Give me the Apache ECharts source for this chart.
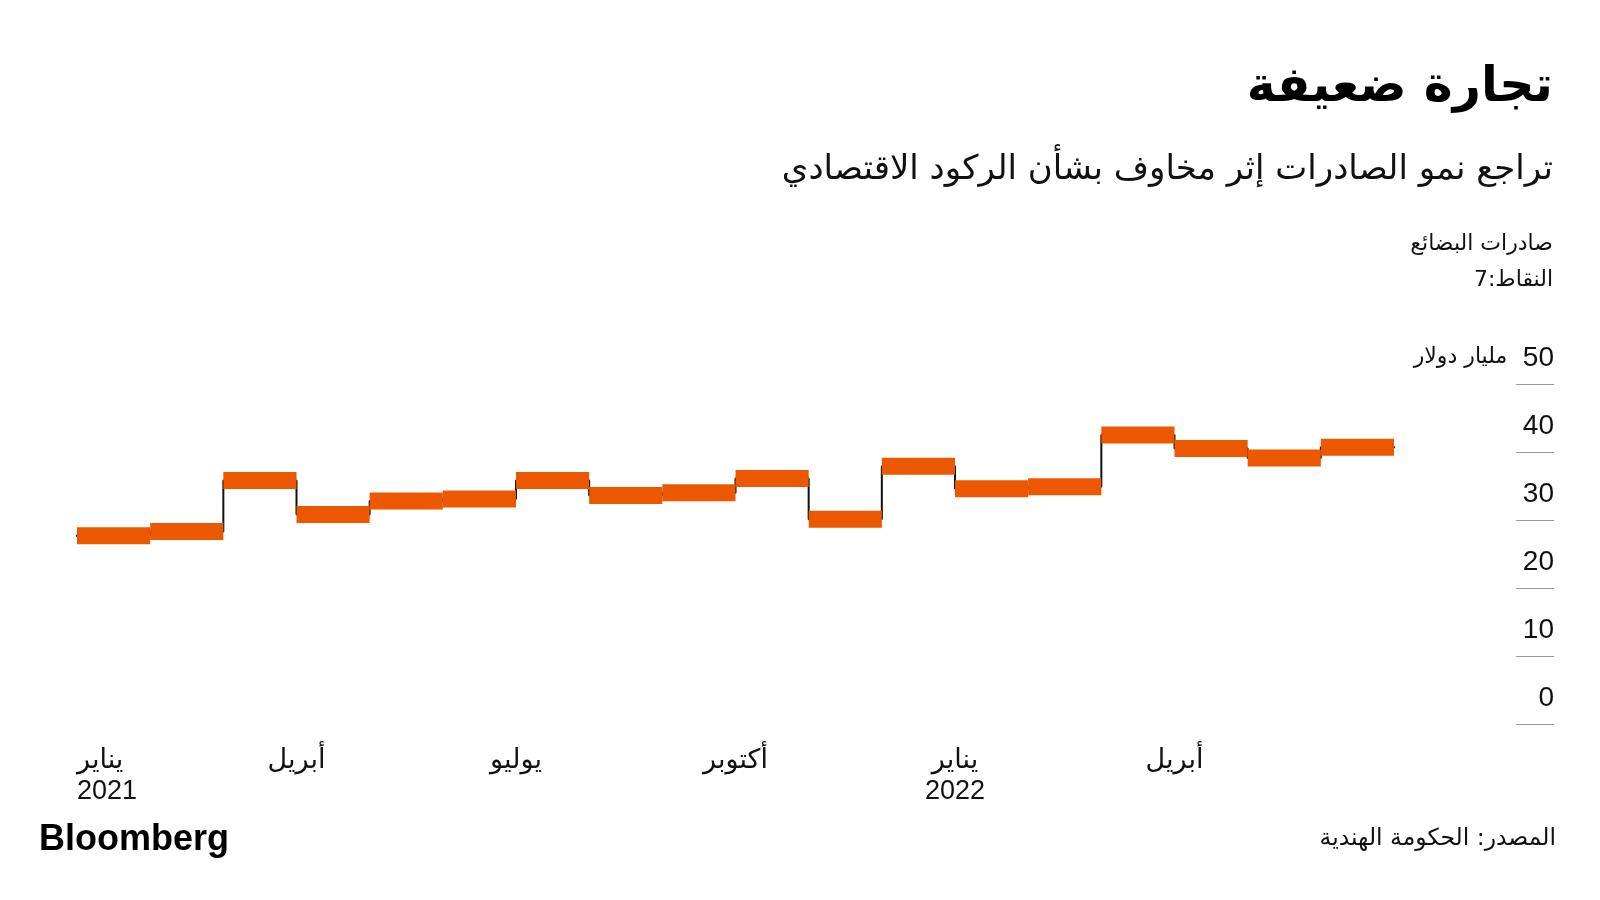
<!DOCTYPE html>
<html>
<head>
<meta charset="utf-8">
<script src="https://cdn.jsdelivr.net/npm/echarts@6/dist/echarts.min.js"></script>
<style>
html,body{margin:0;padding:0;background:#fff;}
#c{width:1600px;height:900px;}
</style>
</head>
<body>
<div id="c"></div>
<script>
// ---- data ----
var months = ["2021-01","2021-02","2021-03","2021-04","2021-05","2021-06","2021-07","2021-08","2021-09","2021-10","2021-11","2021-12","2022-01","2022-02","2022-03","2022-04","2022-05","2022-06"];
var exportsBn = [27.7, 28.3, 35.8, 30.8, 32.8, 33.1, 35.8, 33.6, 34.0, 36.1, 30.1, 37.9, 34.6, 34.9, 42.5, 40.5, 39.1, 40.7];
var xTickLabels = ["يناير\n2021", "أبريل", "يوليو", "أكتوبر", "يناير\n2022", "أبريل"];
var yTickValues = [0, 10, 20, 30, 40, 50];
var yUnit = "مليار دولار";

var AR = "'DejaVu Sans', 'Noto Sans', sans-serif";
var NUM = "'Liberation Sans', 'DejaVu Sans', sans-serif";

// step line points: each month index with its value, plus closing point
var stepData = months.map(function (m, i) { return [i, exportsBn[i]]; });
stepData.push([months.length, exportsBn[exportsBn.length - 1]]);
var segData = months.map(function (m, i) { return [i, exportsBn[i]]; });

var chart = echarts.init(document.getElementById('c'), null, {renderer: 'canvas'});
var option = {
  backgroundColor: '#ffffff',
  animation: false,
  grid: [
    {left: 77, right: 206, top: 384, bottom: 176},
    {left: 1516, right: 46, top: 384, bottom: 176}
  ],
  xAxis: [
    {
      type: 'value', gridIndex: 0, min: 0, max: months.length, interval: 3,
      axisLine: {show: false}, axisTick: {show: false}, splitLine: {show: false},
      axisLabel: {
        show: true, margin: 21, showMaxLabel: false, alignMinLabel: 'left',
        fontFamily: NUM, fontSize: 27, color: '#111', lineHeight: 31,
        formatter: function (v) { var k = Math.round(v / 3); return xTickLabels[k] || ''; }
      }
    },
    {type: 'value', gridIndex: 1, min: 0, max: 1, show: false}
  ],
  yAxis: [
    {type: 'value', gridIndex: 0, min: 0, max: 50, interval: 10, show: false},
    {
      type: 'value', gridIndex: 1, min: 0, max: 50, interval: 10, position: 'right',
      axisLine: {show: false}, axisTick: {show: false},
      splitLine: {show: true, lineStyle: {color: '#9a9a9a', width: 1}},
      axisLabel: {
        inside: true, margin: 0, verticalAlign: 'bottom', align: 'right',
        padding: [0, 0, 12, 0], lineHeight: 28,
        fontFamily: NUM, fontSize: 28, color: '#111',
        formatter: function (v) {
          if (v === yTickValues[yTickValues.length - 1]) return '{u|' + yUnit + '}{n|  ' + v + '}';
          return '{n|' + v + '}';
        },
        rich: {
          u: {fontFamily: AR, fontSize: 22, color: '#111', lineHeight: 28, padding: [0, 0, 2, 0]},
          n: {fontFamily: NUM, fontSize: 28, color: '#111', lineHeight: 28}
        }
      }
    }
  ],
  series: [
    {
      type: 'line', xAxisIndex: 0, yAxisIndex: 0, step: 'end',
      data: stepData, symbol: 'none', z: 2,
      lineStyle: {color: '#111111', width: 2, cap: 'square'}
    },
    {
      type: 'custom', xAxisIndex: 0, yAxisIndex: 0, z: 3,
      data: segData, encode: {x: 0, y: 1},
      renderItem: function (params, api) {
        var i = api.value(0), v = api.value(1);
        var a = api.coord([i, v]);
        var b = api.coord([i + 1, v]);
        var h = 17;
        return {
          type: 'rect',
          shape: {x: a[0], y: a[1] - h / 2, width: b[0] - a[0], height: h},
          style: {fill: '#ec5800'}
        };
      }
    }
  ],
  graphic: [
    {type: 'text', right: 47, top: 64, style: {text: 'تجارة ضعيفة', font: 'bold 49px ' + AR, fill: '#000'}},
    {type: 'text', right: 47, top: 153, style: {text: 'تراجع نمو الصادرات إثر مخاوف بشأن الركود الاقتصادي', font: '34px ' + AR, fill: '#111'}},
    {type: 'text', right: 47, top: 233, style: {text: 'صادرات البضائع', font: '22px ' + AR, fill: '#111'}},
    {type: 'text', right: 47, top: 269, style: {text: 'النقاط:7', font: '22px ' + AR, fill: '#111'}},
    {type: 'text', left: 39, top: 822, style: {text: 'Bloomberg', font: 'bold 36px ' + NUM, fill: '#000'}},
    {type: 'text', right: 44, top: 827, style: {text: 'المصدر: الحكومة الهندية', font: '23.5px ' + AR, fill: '#111'}}
  ]
};
chart.setOption(option);
</script>
</body>
</html>
